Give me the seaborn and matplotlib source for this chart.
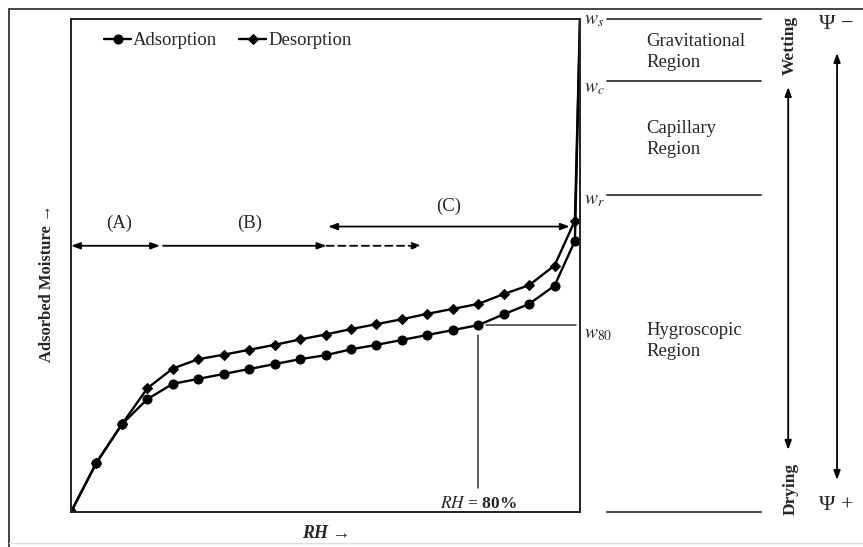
import matplotlib
matplotlib.use("Agg")
import matplotlib.pyplot as plt
from matplotlib.lines import Line2D
import pandas as pd
import seaborn as sns

# Relative humidity (%) and adsorbed moisture (% of saturation) along the isotherms
rh = [0, 5, 10, 15, 20, 25, 30, 35, 40, 45, 50, 55, 60, 65, 70, 75, 80, 85, 90, 95, 99]
adsorption = [0, 10.0, 17.8, 22.9, 26.0, 27.0, 28.0, 29.0, 30.0, 31.0, 31.8, 33.0,
              33.9, 34.9, 35.9, 36.9, 37.9, 40.1, 42.2, 45.9, 55.0]
desorption = [0, 10.0, 17.8, 25.1, 29.1, 31.0, 31.9, 32.9, 33.9, 35.0, 36.0, 37.1,
              38.1, 39.1, 40.2, 41.2, 42.2, 44.2, 46.0, 50.0, 59.1]
# Both branches rise to saturation at the right edge
rh_end = 100
moisture_end = 100

# Moisture levels that bound the regions
level_names = ["$w_s$", "$w_c$", "$w_r$", r"$w_{\mathit{80}}$"]
level_values = [100, 87.4, 64.3, adsorption[rh.index(80)]]
region_names = ["Gravitational\nRegion", "Capillary\nRegion", "Hygroscopic\nRegion"]
region_y = [93.3, 75.7, 34.7]

sns.set_theme(style="white")
plt.rcParams["font.family"] = ["Liberation Serif", "DejaVu Serif"]
plt.rcParams["mathtext.fontset"] = "stix"

fig = plt.figure(figsize=(8.63, 5.47), dpi=100)
ax = fig.add_axes([71 / 863, 35 / 547, 509 / 863, 493 / 547])

df = pd.DataFrame({"rh": rh, "Adsorption": adsorption, "Desorption": desorption})
tail_x = [rh[-1], rh_end]

sns.lineplot(data=df, x="rh", y="Adsorption", ax=ax, color="black", lw=1.7,
             marker="o", markersize=6.5, markeredgecolor="black", sort=False,
             label="Adsorption")
sns.lineplot(data=df, x="rh", y="Desorption", ax=ax, color="black", lw=1.7,
             marker="D", markersize=5.5, markeredgecolor="black", sort=False,
             label="Desorption")
sns.lineplot(x=tail_x, y=[adsorption[-1], moisture_end], ax=ax, color="black",
             lw=1.7, legend=False)
sns.lineplot(x=tail_x, y=[desorption[-1], moisture_end], ax=ax, color="black",
             lw=1.7, legend=False)

ax.set_xlim(0, 100)
ax.set_ylim(0, 100)
ax.set_xticks([])
ax.set_yticks([])
ax.set_xlabel("")
ax.set_ylabel("")
for s in ax.spines.values():
    s.set_color("#222222")
    s.set_linewidth(1.4)

leg = ax.legend(loc="upper left", bbox_to_anchor=(0.065, 0.973), ncol=2,
                frameon=False, fontsize=13.5, handlelength=1.45,
                handletextpad=0.1, columnspacing=1.15, borderaxespad=0,
                borderpad=0)

# Range arrows (A), (B), (C)
head = dict(color="black", lw=1.3, shrinkA=0, shrinkB=0,
            mutation_scale=9)
ax.annotate("", xy=(0, 54.0), xytext=(17.5, 54.0),
            arrowprops=dict(arrowstyle="<|-|>,head_length=0.6,head_width=0.22", **head))
ax.annotate("", xy=(18.1, 54.0), xytext=(50.2, 54.0),
            arrowprops=dict(arrowstyle="<|-,head_length=0.6,head_width=0.22", **head))
ax.annotate("", xy=(68.9, 54.0), xytext=(50.2, 54.0),
            arrowprops=dict(arrowstyle="-|>,head_length=0.6,head_width=0.22",
                            linestyle=(0, (4, 2.5)), **head))
ax.annotate("", xy=(50.5, 57.9), xytext=(98.0, 57.9),
            arrowprops=dict(arrowstyle="<|-|>,head_length=0.6,head_width=0.22", **head))
ax.text(9.5, 58.6, "(A)", ha="center", va="center", fontsize=13.5)
ax.text(35.0, 58.6, "(B)", ha="center", va="center", fontsize=13.5)
ax.text(74.1, 62.1, "(C)", ha="center", va="center", fontsize=13.5)

# RH = 80% marker line and w80 level
ax.plot([80, 80], [4.9, 35.9], color="#333333", lw=1.1)
ax.plot([81.5, 99.3], [level_values[3], level_values[3]], color="#333333", lw=1.1)
ax.text(80, 1.6, r"$\mathit{RH}$ = 80%", ha="center", va="center", fontsize=12.5,
        fontweight="bold")

# Level labels beside the right edge
label_y = [99.6, 86.0, 63.1, 36.0]
for name, y in zip(level_names, label_y):
    ax.text(100.7, y, name, ha="left", va="center", fontsize=14, clip_on=False)

# Region boundaries and names outside the plot box
for y in level_values[:3] + [0]:
    ax.plot([105.3, 135.6], [y, y], color="#333333", lw=1.3, clip_on=False)
for name, y in zip(region_names, region_y):
    ax.text(113.0, y, name, ha="left", va="center", fontsize=13.5,
            linespacing=1.3, clip_on=False)

# Wetting / drying direction and suction sign
ax.annotate("", xy=(140.9, 86.2), xytext=(140.9, 12.6), annotation_clip=False,
            arrowprops=dict(arrowstyle="<|-|>,head_length=0.6,head_width=0.22", **head))
ax.text(141.3, 94.7, "Wetting", rotation=90, ha="center", va="center",
        fontsize=12.5, fontweight="bold", clip_on=False)
ax.text(141.3, 4.7, "Drying", rotation=90, ha="center", va="center",
        fontsize=12.5, fontweight="bold", clip_on=False)
ax.annotate("", xy=(150.5, 93.1), xytext=(150.5, 6.5), annotation_clip=False,
            arrowprops=dict(arrowstyle="<|-|>,head_length=0.6,head_width=0.22", **head))
ax.text(150.3, 98.8, "Ψ −", ha="center", va="center", fontsize=16, clip_on=False)
ax.text(150.3, 1.4, "Ψ +", ha="center", va="center", fontsize=16, clip_on=False)

# Axis titles
fig.text(47 / 863, 1 - 283 / 547, "Adsorbed Moisture →", rotation=90,
         ha="center", va="center", fontsize=12, fontweight="bold")
fig.text(326 / 863, 1 - 533 / 547, "RH →", ha="center", va="center",
         fontsize=13, fontweight="bold", fontstyle="italic")

# Outer frame
fig.add_artist(Line2D([9 / 863, 1], [1 - 9 / 547, 1 - 9 / 547],
                      transform=fig.transFigure, color="#444444", lw=1.4))
fig.add_artist(Line2D([9 / 863, 9 / 863], [0, 1 - 9 / 547],
                      transform=fig.transFigure, color="#444444", lw=1.4))
fig.add_artist(Line2D([9 / 863, 1], [4 / 547, 4 / 547],
                      transform=fig.transFigure, color="#dddddd", lw=1.0))

fig.savefig("out.png", dpi=100)
